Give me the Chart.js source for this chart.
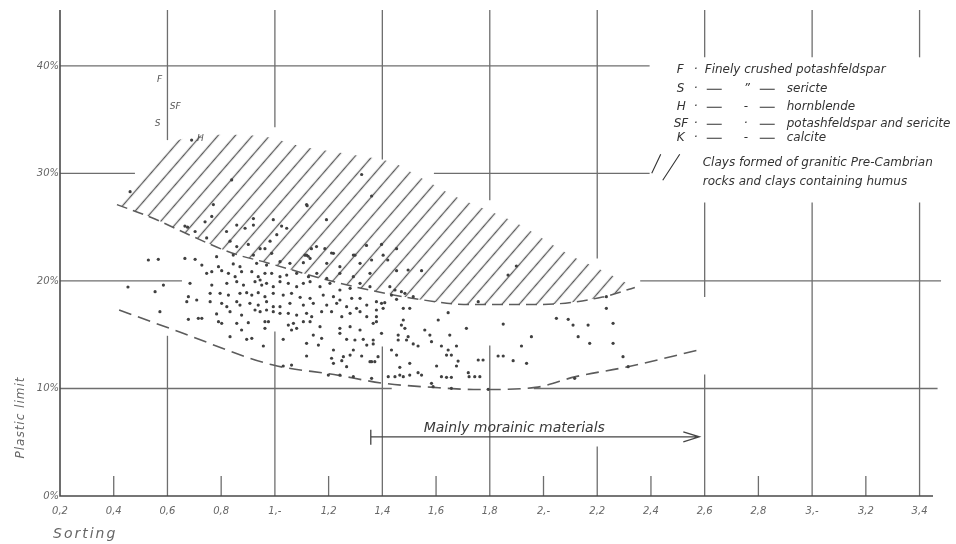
<!DOCTYPE html>
<html>
<head>
<meta charset="utf-8">
<script src="https://cdn.jsdelivr.net/npm/chart.js@4.4.1/dist/chart.umd.min.js"></script>
<style>
  html, body { margin: 0; padding: 0; background: #fff; }
</style>
</head>
<body>
<canvas id="chart" width="956" height="544"></canvas>
<script>
// axis ticks
const xTicks = [0.2, 0.4, 0.6, 0.8, 1.0, 1.2, 1.4, 1.6, 1.8, 2.0, 2.2, 2.4, 2.6, 2.8, 3.0, 3.2, 3.4];
const xTickLabels = ['0,2', '0,4', '0,6', '0,8', '1,-', '1,2', '1,4', '1,6', '1,8', '2,-', '2,2', '2,4', '2,6', '2,8', '3,-', '3,2', '3,4'];
const yTicks = [0, 10, 20, 30, 40];
const yTickLabels = ['0%', '10%', '20%', '30%', '40%'];

// samples: [sorting, plastic limit %]
const samples = [
  [0.69, 33.1],
  [0.461, 28.3], [0.839, 29.4], [0.771, 27.1], [0.665, 25.1], [0.675, 25.0], [0.740, 25.5], [0.765, 26.0],
  [0.703, 24.6], [0.746, 24.0], [0.858, 25.2], [0.889, 24.9], [0.920, 25.8], [0.920, 25.2], [0.994, 25.7],
  [1.044, 24.9], [1.025, 25.1], [1.007, 24.3], [0.982, 23.7], [0.945, 23.0], [0.963, 23.0], [0.901, 23.4],
  [0.858, 23.2], [0.833, 23.7], [0.820, 24.6], [1.118, 27.1], [1.155, 23.2],
  [1.323, 29.9], [1.360, 27.9], [1.120, 27.0], [1.192, 25.7], [1.136, 23.0], [1.186, 23.0], [1.112, 22.4],
  [1.124, 22.3], [1.211, 22.6], [1.298, 22.4], [1.341, 23.3], [1.397, 23.4], [1.453, 23.0], [1.403, 22.4],
  [0.453, 19.44],
  [0.529, 21.95], [0.566, 22.01], [0.665, 22.1], [0.703, 22.01], [0.783, 22.26], [0.845, 22.41], [0.920, 22.41],
  [0.988, 22.57], [1.118, 22.41], [1.131, 22.1], [1.218, 22.57], [1.292, 22.41],
  [0.728, 21.48], [0.790, 21.33], [0.845, 21.58], [0.870, 21.33], [0.932, 21.64], [0.969, 21.48], [1.019, 21.79],
  [1.056, 21.64], [1.106, 21.7], [1.193, 21.64], [1.242, 21.33], [1.317, 21.64],
  [0.746, 20.71], [0.765, 20.86], [0.802, 20.96], [0.827, 20.71], [0.852, 20.4], [0.876, 20.86], [0.914, 20.86],
  [0.938, 20.4], [0.945, 20.09], [0.963, 20.71], [0.988, 20.71], [1.019, 20.4], [1.044, 20.55], [1.081, 20.71],
  [1.125, 20.4], [1.156, 20.71], [1.193, 20.24], [1.242, 20.71], [1.292, 20.4], [1.354, 20.71],
  [0.585, 19.62], [0.684, 19.78], [0.765, 19.62], [0.821, 19.78], [0.858, 19.93], [0.883, 19.62], [0.926, 19.93],
  [0.951, 19.62], [0.969, 19.78], [0.994, 19.47], [1.019, 19.93], [1.050, 19.78], [1.081, 19.47], [1.106, 19.78],
  [1.131, 19.93], [1.168, 19.47], [1.205, 19.78], [1.242, 19.16], [1.280, 19.31], [1.317, 19.78], [1.354, 19.47],
  [0.554, 19.0], [0.678, 18.54], [0.709, 18.23], [0.759, 18.85], [0.796, 18.85], [0.827, 18.69], [0.870, 18.85],
  [0.895, 18.91], [0.914, 18.69], [0.938, 18.91], [0.963, 18.54], [0.994, 18.85], [1.031, 18.69], [1.062, 18.85],
  [1.094, 18.48], [1.131, 18.38], [1.180, 18.69], [1.218, 18.54], [1.242, 18.23], [1.286, 18.38], [1.317, 18.38],
  [0.672, 18.07], [0.759, 18.07], [0.802, 17.92], [0.821, 17.61], [0.858, 18.07], [0.870, 17.76], [0.907, 17.92],
  [0.938, 17.76], [0.969, 18.07], [0.994, 17.61], [1.019, 17.61], [1.056, 17.92], [1.106, 17.76], [1.143, 17.92],
  [1.193, 17.76], [1.230, 17.92], [1.267, 17.61], [1.304, 17.45], [1.342, 17.76],
  [0.572, 17.14], [0.678, 16.43], [0.715, 16.52], [0.728, 16.52], [0.783, 16.93], [0.833, 17.14], [0.876, 16.83],
  [0.926, 17.3], [0.945, 17.14], [0.969, 17.3], [0.994, 17.14], [1.019, 16.99], [1.050, 16.99], [1.081, 16.83],
  [1.118, 16.99], [1.137, 16.68], [1.174, 17.14], [1.211, 17.14], [1.249, 16.68], [1.280, 16.99], [1.317, 17.14],
  [1.342, 16.68],
  [0.790, 16.21], [0.802, 16.06], [0.858, 16.06], [0.901, 16.12], [0.963, 16.21], [0.976, 16.21], [1.050, 15.9],
  [1.069, 16.06], [1.106, 16.21], [1.131, 16.21], [1.081, 15.59], [1.168, 15.75], [1.242, 15.59], [1.280, 15.75],
  [1.317, 15.44],
  [0.833, 14.82], [0.876, 15.44], [0.895, 14.57], [0.914, 14.66], [0.963, 15.59], [1.031, 14.57], [1.062, 15.44],
  [1.143, 14.97], [1.174, 14.66], [1.242, 15.13], [1.267, 14.57], [1.298, 14.51], [1.329, 14.57],
  [0.957, 13.95], [1.118, 14.2], [1.162, 14.04], [1.218, 13.58], [1.292, 13.58], [1.342, 14.04],
  [1.118, 13.02], [1.211, 12.81], [1.255, 12.96], [1.280, 13.11], [1.323, 13.02],
  [1.031, 12.09], [1.062, 12.18], [1.218, 12.34], [1.249, 12.59], [1.267, 12.03], [1.354, 12.49],
  [1.199, 11.25], [1.242, 11.25], [1.292, 11.1],
  [1.36, 21.95], [1.42, 21.95], [1.453, 20.96], [1.496, 21.02], [1.546, 20.96], [1.899, 21.39], [1.868, 20.55],
  [1.428, 19.47], [1.447, 19.16], [1.471, 19.0], [1.434, 18.69], [1.453, 18.29], [1.484, 18.85], [1.515, 18.54],
  [1.378, 18.07], [1.397, 17.92], [1.409, 17.98], [1.757, 18.07],
  [1.378, 17.3], [1.403, 17.45], [1.378, 16.68], [1.378, 16.21], [1.366, 16.06], [1.478, 17.45], [1.502, 17.45],
  [1.645, 17.05], [1.478, 16.37], [1.471, 15.9], [1.484, 15.59], [1.608, 16.37], [1.558, 15.44], [1.713, 15.59],
  [1.85, 15.99],
  [1.397, 15.13], [1.459, 14.97], [1.496, 14.82], [1.577, 14.97], [1.651, 14.97],
  [1.366, 14.51], [1.366, 14.14], [1.459, 14.51], [1.49, 14.51], [1.515, 14.14], [1.533, 13.95], [1.583, 14.35],
  [1.62, 13.95], [1.676, 13.95], [1.645, 13.58], [1.639, 13.11], [1.657, 13.11], [1.434, 13.58], [1.453, 13.11],
  [1.384, 12.96], [1.36, 12.49], [1.372, 12.49], [1.502, 12.34], [1.682, 12.55], [1.757, 12.65], [1.775, 12.65],
  [1.831, 13.02], [1.85, 13.02], [1.887, 12.59], [1.937, 12.34], [1.602, 12.09], [1.676, 12.09], [1.465, 11.97],
  [1.422, 11.1], [1.447, 11.1], [1.465, 11.25], [1.478, 11.1], [1.502, 11.25], [1.533, 11.47], [1.546, 11.25],
  [1.62, 11.1], [1.639, 11.04], [1.657, 11.04], [1.72, 11.47], [1.723, 11.1], [1.744, 11.1], [1.763, 11.1],
  [1.36, 10.94], [1.583, 10.48], [1.589, 10.17], [1.657, 10.01], [1.794, 9.92],
  [1.955, 14.82], [1.918, 13.95], [2.048, 16.52], [2.092, 16.43], [2.11, 15.9], [2.166, 15.9], [2.129, 14.82],
  [2.172, 14.2], [2.259, 16.06], [2.234, 18.54], [2.234, 17.45], [2.259, 14.2], [2.296, 12.96], [2.315, 12.03],
  [2.116, 10.94]
];

// hatched band (granitic clays): upper edge and dashed lower edge
const hatchTopX = [0.412, 0.62, 0.81, 0.97, 1.10, 1.30, 1.44, 1.55, 1.66, 1.77, 1.89, 2.10, 2.20, 2.34];
const hatchTopY = [27.1, 32.9, 33.6, 33.4, 32.5, 31.7, 31.0, 29.5, 28.0, 26.8, 25.5, 22.4, 21.2, 19.4];
const hatchBotX = [0.412, 0.54, 0.68, 0.84, 0.97, 1.24, 1.51, 1.73, 1.98, 2.22, 2.34];
const hatchBotY = [27.1, 25.9, 24.3, 22.6, 21.7, 19.8, 18.4, 17.8, 17.8, 18.5, 19.4];

// dashed lower limit of the cloud
const lowerX = [0.42, 0.63, 0.99, 1.22, 1.40, 1.59, 1.76, 1.97, 2.12, 2.31, 2.58];
const lowerY = [17.3, 15.4, 12.2, 11.3, 10.5, 10.1, 9.9, 10.1, 11.1, 12.0, 13.6];

// broken grid lines of the drawing: [value, [[from, to], ...]]
const vGrid = [
  [0.6, [[33.1, 45.2], [0, 14.9]]],
  [1.0, [[34.3, 45.2], [0, 15.3]]],
  [1.4, [[31.3, 45.2], [0, 13.9]]],
  [1.8, [[27.5, 45.2], [0, 14.0]]],
  [2.2, [[22.1, 45.2], [0, 4.6]]],
  [2.6, [[40.8, 45.2], [18.5, 27.3], [0, 11.3]]],
  [3.0, [[40.8, 45.2], [0, 27.3]]],
  [3.4, [[40.8, 45.2], [0, 27.3]]]
];
const hGrid = [
  [10, [[0.2, 1.435], [1.964, 3.467]]],
  [20, [[0.2, 0.654], [2.36, 3.48]]],
  [30, [[0.2, 0.479], [1.592, 2.395]]],
  [40, [[0.2, 2.395]]]
];
const minorTicks = [0.4, 0.8, 1.2, 1.6, 2.0, 2.4, 2.8, 3.2];

const pointLabels = [
  ['F', 0.561, 38.7], ['SF', 0.609, 36.2], ['S', 0.553, 34.6], ['H', 0.71, 33.2]
];

const legendRows = [
  ['F', 'Finely crushed potashfeldspar', null],
  ['S', 'sericte', '\u02ee'],
  ['H', 'hornblende', '-'],
  ['SF', 'potashfeldspar and sericite', '\u00b7'],
  ['K', 'calcite', '-']
];
const legendHatchText = ['Clays formed of granitic Pre-Cambrian', 'rocks and clays containing humus'];
const arrowText = 'Mainly morainic materials';

const INK = '#5c5c5c';
const FONT = '"DejaVu Sans", sans-serif';

function makeHatch(ctx) {
  const tile = document.createElement('canvas');
  tile.width = 13;
  tile.height = 13;
  const t = tile.getContext('2d');
  t.strokeStyle = '#5a5a5a';
  t.lineWidth = 1.3;
  t.beginPath();
  t.moveTo(6.5, 0);
  t.lineTo(6.5, 13);
  t.stroke();
  const pat = ctx.createPattern(tile, 'repeat');
  pat.setTransform(new DOMMatrix().rotate(41));
  return pat;
}

const paper = {
  id: 'paper',
  beforeDatasetsDraw(chart) {
    const { ctx, scales: { x, y } } = chart;
    ctx.save();
    ctx.strokeStyle = '#6e6e6e';
    ctx.lineWidth = 1.3;
    vGrid.forEach(([v, spans]) => spans.forEach(([a, b]) => {
      const px = x.getPixelForValue(v);
      ctx.beginPath();
      ctx.moveTo(px, y.getPixelForValue(a));
      ctx.lineTo(px, y.getPixelForValue(b));
      ctx.stroke();
    }));
    hGrid.forEach(([v, spans]) => spans.forEach(([a, b]) => {
      const py = y.getPixelForValue(v);
      ctx.beginPath();
      ctx.moveTo(x.getPixelForValue(a), py);
      ctx.lineTo(x.getPixelForValue(b), py);
      ctx.stroke();
    }));
    // minor ticks standing on the base line
    const y0 = y.getPixelForValue(0);
    minorTicks.forEach(v => {
      const px = x.getPixelForValue(v);
      ctx.beginPath();
      ctx.moveTo(px, y0);
      ctx.lineTo(px, y0 - 20);
      ctx.stroke();
    });
    // axes
    ctx.strokeStyle = '#4a4a4a';
    ctx.lineWidth = 1.6;
    ctx.beginPath();
    ctx.moveTo(x.getPixelForValue(0.2), y.getPixelForValue(45.2));
    ctx.lineTo(x.getPixelForValue(0.2), y0);
    ctx.lineTo(x.getPixelForValue(3.45), y0);
    ctx.stroke();
    ctx.restore();
  },
  afterDatasetsDraw(chart) {
    const { ctx, scales: { x, y } } = chart;
    ctx.save();
    ctx.fillStyle = '#555';
    ctx.textBaseline = 'middle';

    // markers of the special materials
    ctx.font = 'italic 9px ' + FONT;
    pointLabels.forEach(([t, vx, vy]) => ctx.fillText(t, x.getPixelForValue(vx), y.getPixelForValue(vy)));

    // legend block
    const lx = x.getPixelForValue(2.496);
    const ly = y.getPixelForValue(39.6);
    const rowY = [0, 19, 37, 54, 68];
    ctx.fillStyle = '#333';
    ctx.strokeStyle = '#333';
    ctx.lineWidth = 1.1;
    legendRows.forEach(([key, name, mid], i) => {
      const yy = ly + rowY[i];
      ctx.font = 'italic 12px ' + FONT;
      ctx.fillText(key, key.length > 1 ? lx - 3 : lx, yy);
      ctx.fillText('\u00b7', lx + 17, yy);
      if (mid === null) {
        ctx.fillText(name, lx + 28, yy);
      } else {
        ctx.beginPath();
        ctx.moveTo(lx + 30, yy); ctx.lineTo(lx + 45, yy);
        ctx.moveTo(lx + 83, yy); ctx.lineTo(lx + 98, yy);
        ctx.stroke();
        ctx.fillText(mid, lx + 67, yy);
        ctx.fillText(name, lx + 110, yy);
      }
    });
    // hatch key
    ctx.beginPath();
    ctx.moveTo(lx - 25, ly + 103); ctx.lineTo(lx - 16, ly + 84);
    ctx.moveTo(lx - 14, ly + 110); ctx.lineTo(lx + 3, ly + 84);
    ctx.stroke();
    ctx.font = 'italic 12px ' + FONT;
    ctx.fillText(legendHatchText[0], lx + 26, ly + 93);
    ctx.fillText(legendHatchText[1], lx + 26, ly + 112);

    // arrow: mainly morainic materials
    const ay = y.getPixelForValue(5.5);
    const ax0 = x.getPixelForValue(1.357);
    const ax1 = x.getPixelForValue(2.58);
    ctx.strokeStyle = '#444';
    ctx.lineWidth = 1.3;
    ctx.beginPath();
    ctx.moveTo(ax0, ay); ctx.lineTo(ax1, ay);
    ctx.moveTo(ax0, ay - 7); ctx.lineTo(ax0, ay + 8);
    ctx.moveTo(ax1 - 16, ay - 5); ctx.lineTo(ax1, ay); ctx.lineTo(ax1 - 16, ay + 5);
    ctx.stroke();
    ctx.fillStyle = '#3a3a3a';
    ctx.font = 'italic 14px ' + FONT;
    ctx.textBaseline = 'alphabetic';
    ctx.fillText(arrowText, x.getPixelForValue(1.554), ay - 5);

    // axis titles
    ctx.fillStyle = '#666';
    ctx.letterSpacing = '1px';
    ctx.font = 'italic 12px ' + FONT;
    ctx.save();
    ctx.translate(24, y.getPixelForValue(7.3));
    ctx.rotate(-Math.PI / 2);
    ctx.textAlign = 'center';
    ctx.fillText('Plastic limit', 0, 0);
    ctx.restore();
    ctx.letterSpacing = '2px';
    ctx.font = 'italic 14px ' + FONT;
    ctx.fillText('Sorting', 53, 538);
    ctx.restore();
  }
};

const canvas = document.getElementById('chart');
const hatch = makeHatch(canvas.getContext('2d'));
const toXY = (xs, ys) => xs.map((v, i) => ({ x: v, y: ys[i] }));
const tickFont = { family: FONT, style: 'italic', size: 10 };

new Chart(canvas, {
  type: 'line',
  data: {
    datasets: [
      {
        label: 'Samples',
        data: samples.map(([sx, sy]) => ({ x: sx, y: sy })),
        showLine: false,
        pointRadius: 1.6,
        pointBorderWidth: 0,
        pointBackgroundColor: '#404040'
      },
      {
        label: 'Granitic clays',
        data: toXY(hatchTopX, hatchTopY),
        borderWidth: 0,
        borderColor: 'rgba(0,0,0,0)',
        pointRadius: 0,
        cubicInterpolationMode: 'monotone',
        fill: '+1',
        backgroundColor: hatch
      },
      {
        label: 'Granitic clays lower',
        data: toXY(hatchBotX, hatchBotY),
        borderColor: INK,
        borderWidth: 1.5,
        borderDash: [11, 6],
        pointRadius: 0,
        cubicInterpolationMode: 'monotone',
        fill: false
      },
      {
        label: 'Lower limit',
        data: toXY(lowerX, lowerY),
        borderColor: INK,
        borderWidth: 1.6,
        borderDash: [13, 7],
        pointRadius: 0,
        cubicInterpolationMode: 'monotone',
        fill: false
      }
    ]
  },
  options: {
    responsive: false,
    animation: false,
    layout: { padding: { top: 10, right: 23, left: 0, bottom: 0 } },
    plugins: { legend: { display: false }, tooltip: { enabled: false } },
    scales: {
      x: {
        type: 'linear',
        min: 0.2,
        max: 3.45,
        grid: { display: false, drawTicks: false },
        border: { display: false },
        afterBuildTicks: s => { s.ticks = xTicks.map(v => ({ value: v })); },
        afterFit: s => { s.height = 48; },
        ticks: {
          autoSkip: false,
          maxRotation: 0,
          padding: 9,
          color: '#666',
          font: tickFont,
          callback: v => xTickLabels[xTicks.findIndex(t => Math.abs(t - v) < 1e-6)]
        }
      },
      y: {
        min: 0,
        max: 45.2,
        grid: { display: false, drawTicks: false },
        border: { display: false },
        afterBuildTicks: s => { s.ticks = yTicks.map(v => ({ value: v })); },
        afterFit: s => { s.width = 60; },
        ticks: {
          padding: 1,
          color: '#666',
          font: tickFont,
          callback: v => yTickLabels[yTicks.indexOf(v)]
        }
      }
    }
  },
  plugins: [paper]
});
</script>
</body>
</html>
